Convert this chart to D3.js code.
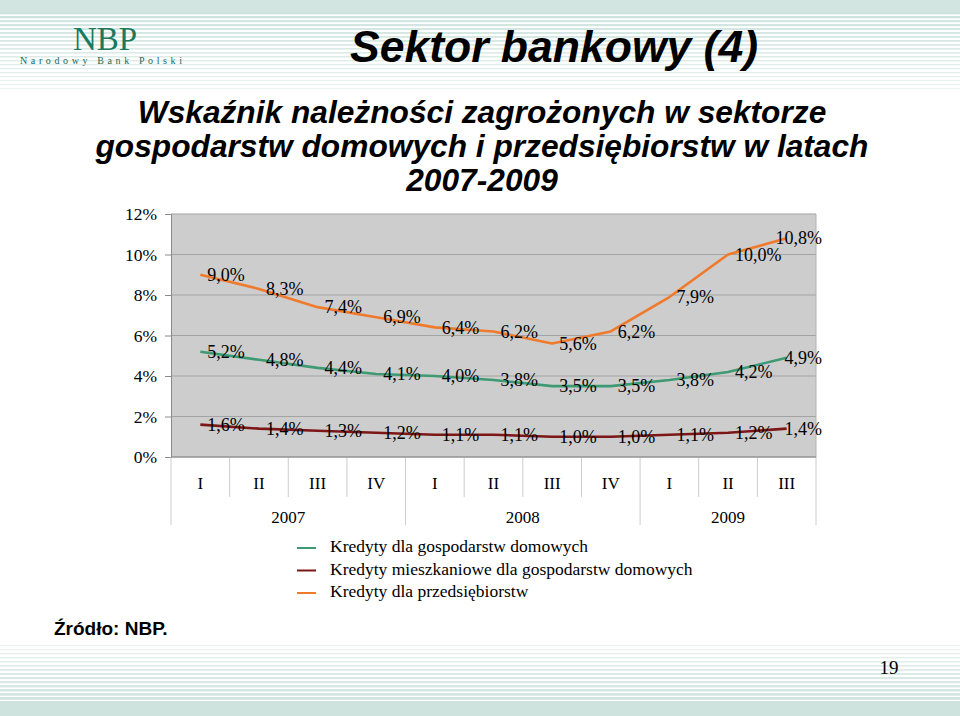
<!DOCTYPE html>
<html>
<head>
<meta charset="utf-8">
<script src="https://cdn.jsdelivr.net/npm/d3@7"></script>
<style>
html,body{margin:0;padding:0;background:#fff;}
svg{display:block;}
</style>
</head>
<body>
<svg id="chart" width="960" height="716"></svg>
<script>
// ---- data ----
const quarters = ["I","II","III","IV","I","II","III","IV","I","II","III"];
const years = [{label:"2007", from:0, to:4},{label:"2008", from:4, to:8},{label:"2009", from:8, to:11}];
const seriesNames = ["Kredyty dla gospodarstw domowych","Kredyty mieszkaniowe dla gospodarstw domowych","Kredyty dla przedsiębiorstw"];
const households = [5.2,4.8,4.4,4.1,4.0,3.8,3.5,3.5,3.8,4.2,4.9];
const mortgages  = [1.6,1.4,1.3,1.2,1.1,1.1,1.0,1.0,1.1,1.2,1.4];
const enterprises= [9.0,8.3,7.4,6.9,6.4,6.2,5.6,6.2,7.9,10.0,10.8];
const yTicks = [0,2,4,6,8,10,12];
const seriesColors = ["#3d9a72","#7d1616","#f07a2c"];

const svg = d3.select("#chart");
const W = 960, H = 716;

// ---- decorative bands ----
const band = svg.append("g");
band.append("rect").attr("x",0).attr("y",0).attr("width",W).attr("height",12).attr("fill","#d2e5e1");
for (let yy=12; yy<90; yy+=4){
  const t = (yy-12)/78;
  band.append("rect").attr("x",0).attr("y",yy).attr("width",W).attr("height",Math.max(0.8,2.4-1.6*t))
    .attr("fill","#cfe3de").attr("opacity",1-0.55*t);
}
for (let yy=645; yy<703; yy+=4){
  const t = (yy-645)/58;
  band.append("rect").attr("x",0).attr("y",yy).attr("width",W).attr("height",Math.max(0.8,0.9+2.2*t))
    .attr("fill","#cfe3de").attr("opacity",0.5+0.5*t);
}
band.append("rect").attr("x",0).attr("y",703).attr("width",W).attr("height",13).attr("fill","#cfe3de");

// logo
svg.append("text").attr("x",105).attr("y",50).attr("text-anchor","middle")
  .attr("font-family","Liberation Serif, serif").attr("font-size",33).attr("fill","#1b7a5e").text("NBP");
svg.append("text").attr("x",20).attr("y",64).attr("textLength",162).attr("lengthAdjust","spacing")
  .attr("font-family","Liberation Serif, serif").attr("font-size",10).attr("fill","#1b6b55").text("Narodowy Bank Polski");

// titles
svg.append("text").attr("x",554).attr("y",62).attr("text-anchor","middle")
  .attr("font-family","Liberation Sans, Arial, sans-serif").attr("font-weight","bold").attr("font-style","italic")
  .attr("font-size",44.5).attr("fill","#000").text("Sektor bankowy (4)");
const subLines = ["Wskaźnik należności zagrożonych w sektorze","gospodarstw domowych i przedsiębiorstw w latach","2007-2009"];
svg.append("g").selectAll("text").data(subLines).join("text")
  .attr("x",482).attr("y",(d,i)=>123+34*i).attr("text-anchor","middle")
  .attr("font-family","Liberation Sans, Arial, sans-serif").attr("font-weight","bold").attr("font-style","italic")
  .attr("font-size",31.7).attr("fill","#000").text(d=>d);

// ---- chart ----
const pLeft=171, pRight=816, pTop=214, pBottom=457;
const x = d3.scaleBand().domain(d3.range(quarters.length)).range([pLeft,pRight]);
const y = d3.scaleLinear().domain([0,12]).range([pBottom,pTop]);
const cx = i => x(i)+x.bandwidth()/2;

svg.append("rect").attr("x",pLeft).attr("y",pTop).attr("width",pRight-pLeft).attr("height",pBottom-pTop).attr("fill","#cdcdcd");
svg.append("g").selectAll("line").data(yTicks).join("line")
  .attr("x1",pLeft).attr("x2",pRight).attr("y1",d=>y(d)).attr("y2",d=>y(d))
  .attr("stroke","#a3a3a3").attr("stroke-width",1.2);
svg.append("line").attr("x1",pRight).attr("x2",pRight).attr("y1",pTop).attr("y2",pBottom).attr("stroke","#b0b0b0");

// y axis
const yAxis = d3.axisLeft(y).tickValues(yTicks).tickSize(6).tickPadding(8).tickFormat(d=>d+"%");
const ya = svg.append("g").attr("transform",`translate(${pLeft},0)`).call(yAxis);
ya.select(".domain").attr("stroke","#8a8a8a");
ya.selectAll(".tick line").attr("stroke","#8a8a8a");
ya.selectAll(".tick text").attr("font-family","Liberation Serif, serif").attr("font-size",17.5).attr("fill","#000");

// category table
const tbl = svg.append("g");
const bounds = d3.range(quarters.length+1).map(i => i<quarters.length ? x(i) : pRight);
const yearBounds = new Set([0, ...years.map(d=>d.to)]);
bounds.forEach((bx,i)=>{
  tbl.append("line").attr("x1",bx).attr("x2",bx).attr("y1",pBottom)
    .attr("y2", yearBounds.has(i) ? 525 : 497).attr("stroke","#cccccc").attr("stroke-width",1);
});
svg.append("line").attr("x1",pLeft).attr("x2",pRight).attr("y1",pBottom).attr("y2",pBottom).attr("stroke","#8a8a8a");
tbl.selectAll("text.q").data(quarters).join("text").attr("class","q")
  .attr("x",(d,i)=>cx(i)).attr("y",489).attr("text-anchor","middle")
  .attr("font-family","Liberation Serif, serif").attr("font-size",17).text(d=>d);
tbl.selectAll("text.yr").data(years).join("text").attr("class","yr")
  .attr("x",d=>(x(d.from)+(d.to<quarters.length?x(d.to):pRight))/2).attr("y",523).attr("text-anchor","middle")
  .attr("font-family","Liberation Serif, serif").attr("font-size",17).text(d=>d.label);

// lines
const allSeries = [households, mortgages, enterprises];
const line = d3.line().x((d,i)=>cx(i)).y(d=>y(d)).curve(d3.curveLinear);
svg.append("g").selectAll("path").data(allSeries).join("path")
  .attr("d",line).attr("fill","none").attr("stroke",(d,i)=>seriesColors[i]).attr("stroke-width",2.6)
  .attr("stroke-linejoin","round");

// data labels
const fmt = v => v.toFixed(1).replace(".",",")+"%";
allSeries.forEach(s=>{
  s.forEach((v,i)=>{
    const t = svg.append("text").attr("x",cx(i)+7).attr("y",y(v)+2).attr("dominant-baseline","middle")
      .attr("font-family","Liberation Serif, serif").attr("font-size",18).attr("fill","#000").text(fmt(v));
    const w = t.node().getComputedTextLength();
    if (cx(i)+7+w > 822) t.attr("x", 822-w);
  });
});

// legend
const lg = svg.append("g");
seriesNames.forEach((n,i)=>{
  const ly = 548+22.5*i;
  lg.append("line").attr("x1",297).attr("x2",316).attr("y1",ly).attr("y2",ly).attr("stroke",seriesColors[i]).attr("stroke-width",2);
  lg.append("text").attr("x",330).attr("y",ly).attr("dominant-baseline","middle")
    .attr("font-family","Liberation Serif, serif").attr("font-size",17.5).text(n);
});

// footer
svg.append("text").attr("x",54).attr("y",635).attr("font-family","Liberation Sans, Arial, sans-serif")
  .attr("font-weight","bold").attr("font-size",19).text("Źródło: NBP.");
svg.append("text").attr("x",889).attr("y",674).attr("text-anchor","middle").attr("font-family","Liberation Serif, serif")
  .attr("font-size",19).text("19");
</script>
</body>
</html>
